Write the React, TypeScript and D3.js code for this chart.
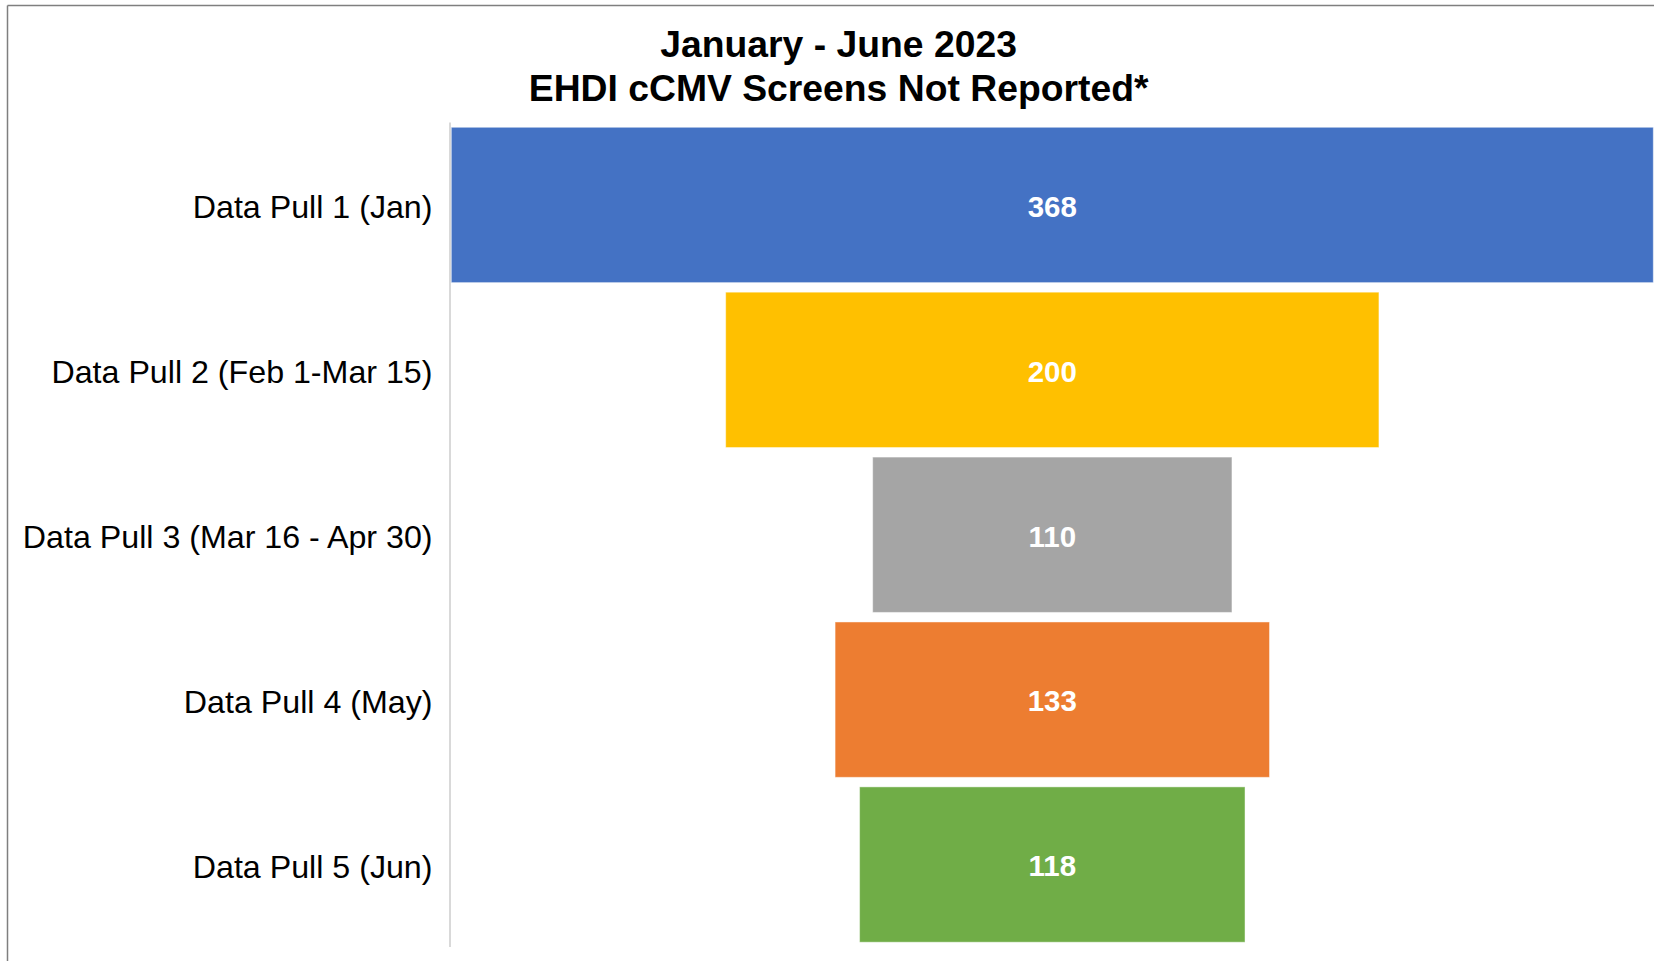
import React from "react";
import * as d3 from "d3";

const categories = [
  "Data Pull 1 (Jan)",
  "Data Pull 2 (Feb 1-Mar 15)",
  "Data Pull 3 (Mar 16 - Apr 30)",
  "Data Pull 4 (May)",
  "Data Pull 5 (Jun)",
];
const values = [368, 200, 110, 133, 118];
const colors = ["#4472C4", "#FFC000", "#A5A5A5", "#ED7D31", "#70AD47"];
const titleLines = ["January - June 2023", "EHDI cCMV Screens Not Reported*"];

const W = 1654;
const H = 961;
const FONT = "'Liberation Sans', Arial, Helvetica, sans-serif";

export default function App() {
  const maxV = d3.max(values) as number;
  const x = d3.scaleLinear().domain([-maxV / 2, maxV / 2]).range([451.3, 1653.3]);
  const y = d3
    .scaleBand<string>()
    .domain(categories)
    .range([122.5, 947])
    .paddingInner(0.058)
    .paddingOuter(0.029);
  const axisX = 450;

  return (
    <svg
      width={W}
      height={H}
      style={{ position: "absolute", left: 0, top: 0, background: "#fff" }}
      fontFamily={FONT}
    >
      <rect x={0} y={0} width={W} height={H} fill="#fff" />
      {/* frame */}
      <line x1={7.5} x2={W} y1={5.5} y2={5.5} stroke="#7f7f7f" strokeWidth={1.5} />
      <line x1={7.5} x2={7.5} y1={5.5} y2={H} stroke="#7f7f7f" strokeWidth={1.5} />

      {/* title */}
      <text textAnchor="middle" fontWeight="bold" fontSize={37.3} fill="#000">
        {titleLines.map((t, i) => (
          <tspan key={i} x={838.6} y={57 + i * 44}>
            {t}
          </tspan>
        ))}
      </text>

      {/* bars */}
      {categories.map((c, i) => {
        const v = values[i];
        const x0 = x(-v / 2);
        const x1 = x(v / 2);
        const yy = y(c) as number;
        const bw = y.bandwidth();
        return (
          <g key={c}>
            <rect
              x={x0}
              y={yy}
              width={x1 - x0}
              height={bw}
              fill={colors[i]}
              stroke="#ffffff"
              strokeOpacity={0.45}
              strokeWidth={1}
            />
            <text
              x={x(0)}
              y={yy + bw / 2 + 1.5}
              dy="0.35em"
              textAnchor="middle"
              fill="#fff"
              fontWeight="bold"
              fontSize={29.5}
            >
              {v}
            </text>
            <text
              x={432.5}
              y={yy + bw / 2 + 2}
              dy="0.35em"
              textAnchor="end"
              fill="#000"
              fontSize={32.2}
            >
              {c}
            </text>
          </g>
        );
      })}

      {/* axis line */}
      <line x1={axisX} x2={axisX} y1={122.5} y2={947} stroke="#d9d9d9" strokeWidth={2} />
    </svg>
  );
}
